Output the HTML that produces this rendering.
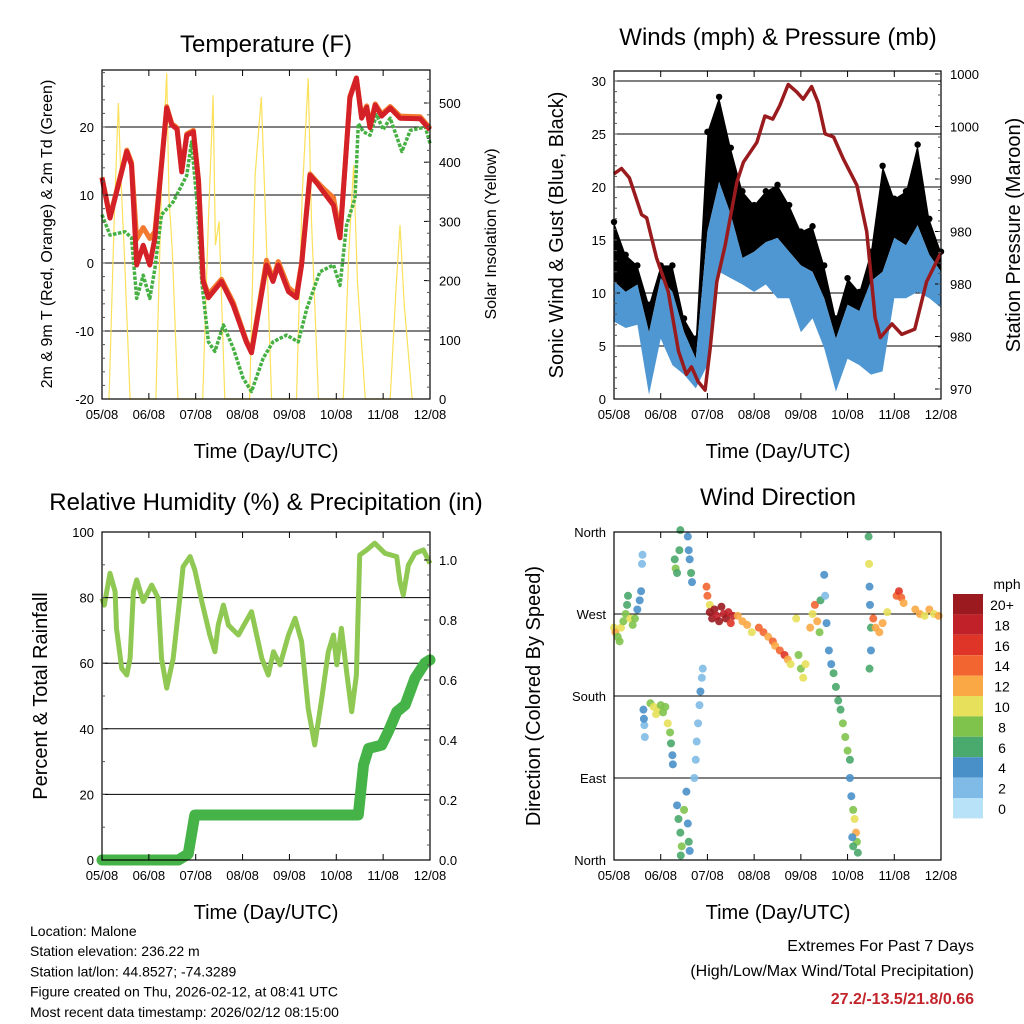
<!DOCTYPE html>
<html><head><meta charset="utf-8"><style>
html,body{margin:0;padding:0;background:#fff;}
svg{display:block;font-family:"Liberation Sans",Arial,sans-serif;}
</style></head><body>
<svg id="c" width="1024" height="1024" viewBox="0 0 1024 1024" xmlns="http://www.w3.org/2000/svg"></svg>
<script>
// ---------- DATA ----------
const dayLabels = ['05/08','06/08','07/08','08/08','09/08','10/08','11/08','12/08'];
// Temperature (F), time in days since 05/08
const tempT = [0,0.17,0.53,0.63,0.74,0.88,1.02,1.13,1.27,1.38,1.49,1.6,1.7,1.81,1.95,2.06,2.16,2.27,2.55,2.8,3.08,3.19,3.51,3.65,3.76,3.98,4.15,4.26,4.44,4.58,4.72,4.94,5.08,5.19,5.29,5.43,5.54,5.65,5.72,5.83,5.97,6.15,6.36,6.79,7];
const tempRed = [12.5,6.6,16.4,14.4,-0.3,2.6,-0.3,3.7,14.4,22.8,20.3,19.7,13.4,18.8,19.3,12,-2.7,-5.1,-2.7,-6.2,-11.6,-13.2,-0.3,-2.7,-0.3,-4.2,-5.1,-0.3,12.9,11.8,10.5,8.5,3.7,14.4,24.3,27.2,21.3,22.9,19.9,23.2,21.6,22.8,21.3,21.2,19.6];
const tempOrange = [12.6,6.8,16.6,14.8,3.5,5.2,3.6,4.6,14.6,23,20.5,19.9,13.6,19,19.5,12.2,-2.5,-4.6,-2.4,-5.8,-11.4,-13,0.4,-2.4,0.2,-3.6,-4.6,0,13.1,12,11,9.6,4.2,14.6,24.5,27.2,21.6,23.1,20.2,23.4,21.9,23,21.6,21.5,19.8];
const dewT = [0,0.17,0.49,0.63,0.74,0.88,1.02,1.13,1.27,1.52,1.81,1.91,2.02,2.13,2.27,2.41,2.59,2.8,3.01,3.19,3.44,3.65,3.94,4.19,4.37,4.65,4.94,5.08,5.22,5.4,5.47,5.58,5.72,5.86,6.0,6.15,6.4,6.58,6.9,7];
const dewGreen = [7.1,4.1,4.6,3.7,-5.2,-1.8,-5.2,-0.8,7.1,9,12.9,17.8,9.5,-2.7,-11.6,-13,-9.1,-12.5,-16.9,-18.9,-14,-11.6,-10.6,-11.6,-6.7,-1.3,-0.3,-3.3,5.6,9.5,20.5,19.3,18.8,21.8,19.6,21.3,16.4,19.5,20,17.6];
const solarT = [0.15,0.27,0.35,0.4,0.48,0.6,1.15,1.27,1.38,1.43,1.5,1.62,2.15,2.27,2.37,2.42,2.5,2.62,3.15,3.27,3.4,3.48,3.62,4.15,4.27,4.4,4.47,4.62,5.15,5.27,5.37,5.45,5.62,6.15,6.27,6.36,6.45,6.62];
const solarV = [0,330,500,380,240,0,0,360,550,340,250,0,0,300,513,260,300,0,0,380,510,330,0,0,340,542,300,0,0,250,395,200,0,0,180,294,160,0];
// Winds (mph) and pressure (mb)
const windT = [0,0.25,0.5,0.75,1,1.25,1.5,1.75,2,2.25,2.5,2.75,3,3.25,3.5,3.75,4,4.25,4.5,4.75,5,5.25,5.5,5.75,6,6.25,6.5,6.75,7];
const windHi = [11.1,10.1,10.8,6.3,11.4,10.1,6.3,3.8,15.8,20.5,17.4,13.3,13.9,14.8,15.2,13.9,12.6,12,9.5,5.7,8.9,8.3,11.1,12,15.2,14.5,16.4,13.6,12];
const windLo = [7.3,6.7,7,0.4,5.7,3.2,2.3,1,3.2,12,11.4,10.8,10.1,10.8,9.5,9.5,6.3,7.6,4.8,0.7,3.8,3.2,2.3,2.6,9.5,9.5,10.1,9.5,8.6];
const gust = [16.7,13.6,12.6,8.9,12.6,12.6,7.6,5.7,25.2,28.5,23.7,19.6,18.3,19.6,20.2,18.3,15.8,16.3,12.6,7.6,11.4,10.1,13.9,22,18.9,19.6,24,17,13.9];
const pressT = [0,0.16,0.33,0.59,0.7,0.91,1.16,1.38,1.55,1.66,1.8,1.95,2.06,2.2,2.38,2.63,2.77,3.06,3.23,3.4,3.55,3.73,3.91,4.05,4.23,4.37,4.52,4.7,4.91,5.2,5.41,5.59,5.7,5.95,6.16,6.44,6.69,7];
const pressV = [990.5,991,990.1,986.6,986.3,982.5,979.3,973.6,971.4,972.1,970.7,969.9,973.9,980.2,983.7,989.7,991.6,993.5,996,995.7,997,999,998.3,997.6,998.8,997.3,994.3,994,991.9,989.4,985,976.8,974.9,976.2,975.2,975.7,980.2,983];
const pressTicks = [970,975,980,985,990,995,1000];
const pressTickLabels = ['970','980','980','980','990','1000','1000'];
// RH (%) and precipitation (in)
const rhT = [0,0.05,0.17,0.28,0.31,0.42,0.53,0.6,0.67,0.74,0.88,1.06,1.2,1.27,1.38,1.52,1.66,1.73,1.88,1.98,2.13,2.3,2.41,2.48,2.59,2.7,2.91,3.19,3.41,3.55,3.66,3.8,3.98,4.12,4.26,4.4,4.54,4.69,4.83,4.94,5.01,5.11,5.22,5.33,5.43,5.5,5.65,5.82,6.04,6.29,6.36,6.43,6.54,6.68,6.86,7];
const rhV = [79.8,77.7,87.4,81.8,70.6,58.4,56.4,61.5,81.8,85.4,78.8,83.8,79.8,61.5,52.4,61.5,79.8,89.4,92.5,88.4,78.8,68.6,63.5,71.6,77.7,71.6,68.6,75.7,61.5,56.4,63.5,59.5,68.6,73.7,66.6,46.2,35.1,49.3,63.5,68.6,59.5,70.6,57.4,45.2,56.4,93,94.5,96.6,93.5,92.5,84.8,80.8,89.9,93.5,94.5,90.4];
const precipT = [0,1.63,1.84,1.98,2.05,5.47,5.58,5.69,5.97,6.11,6.29,6.47,6.68,6.89,7];
const precipV = [0,0,0.02,0.15,0.15,0.15,0.317,0.372,0.383,0.428,0.494,0.517,0.606,0.656,0.667];
// Wind direction (deg) and speed (mph)
const dirT = [0,0.03,0.08,0.12,0.15,0.2,0.25,0.28,0.3,0.35,0.4,0.45,0.5,0.55,0.58,0.6,0.61,0.63,0.65,0.66,0.64,0.78,0.85,0.9,0.95,1,1.05,1.1,1.15,1.2,1.22,1.25,1.26,1.3,1.32,1.35,1.4,1.42,1.58,1.6,1.62,1.65,1.67,1.35,1.38,1.42,1.45,1.43,1.5,1.55,1.58,1.6,1.62,1.72,1.75,1.77,1.8,1.83,1.85,1.88,1.9,1.98,2,2.05,2.05,2.1,2.15,2.2,2.25,2.3,2.35,2.4,2.45,2.5,2.55,2.65,2.75,2.85,2.95,3.1,3.2,3.3,3.4,3.45,3.55,3.65,3.72,3.78,3.9,3.95,4,4.05,4.1,4.2,4.25,4.3,4.35,4.4,4.42,4.5,4.52,4.55,4.6,4.65,4.7,4.75,4.8,4.85,4.9,4.95,5,5.05,5.05,5.08,5.12,5.15,5.18,5.2,5.22,5.1,5.12,5.45,5.46,5.47,5.48,5.5,5.5,5.47,5.55,5.6,5.68,5.75,5.85,6.05,6.1,6.15,6.2,6.45,6.55,6.65,6.75,6.85,6.95];
const dirV = [255,250,245,240,255,262,270,280,290,265,258,265,275,285,295,325,335,165,148,135,155,172,168,160,165,170,162,168,150,140,128,115,105,330,320,315,340,362,355,340,330,315,305,60,45,30,15,5,55,75,40,20,10,90,110,130,150,170,185,200,210,300,290,280,272,265,275,268,262,278,270,265,272,260,268,268,262,258,250,255,250,245,240,235,230,225,220,215,265,225,210,200,215,255,270,280,262,250,285,313,290,260,230,215,205,190,175,165,150,135,120,110,90,70,55,45,30,20,8,25,15,355,325,300,280,255,230,210,265,255,250,260,272,290,295,288,282,275,270,268,275,270,268];
const dirS = [10,12,8,8,10,8,8,6,6,10,8,8,4,4,4,2,2,4,2,2,4,8,10,10,10,8,8,8,10,8,6,4,4,6,8,6,6,6,4,4,4,6,4,4,6,6,8,6,8,4,4,6,4,2,2,2,2,2,4,2,2,14,14,10,20,20,20,18,20,20,18,20,18,16,18,12,12,12,10,14,14,12,14,12,14,16,12,10,10,8,8,10,10,12,10,14,12,8,6,4,2,4,4,4,6,6,6,6,8,8,8,6,4,4,8,10,12,8,6,4,6,6,10,4,4,6,4,6,14,12,12,12,10,14,16,14,12,12,12,10,12,10,12];
const cbLabels = ['20+','18','16','14','12','10','8','6','4','2','0'];
const cbColors = ['#9b1a1f','#c1222a','#de3528','#f26530','#f9a845','#e7e05a','#7fc34c','#4aa96c','#4a90c8','#7fbbe6','#b8e2f8'];

// ---------- DRAWING ----------
const NS='http://www.w3.org/2000/svg';
const svg=document.getElementById('c');
function mk(tag,attrs,parent){const e=document.createElementNS(NS,tag);for(const k in attrs)e.setAttribute(k,attrs[k]);(parent||svg).appendChild(e);return e;}
function txt(s,x,y,size,anchor,parent,extra){const e=mk('text',Object.assign({x:x,y:y,'font-size':size,'text-anchor':anchor||'middle',fill:'#000'},extra||{}),parent);e.textContent=s;return e;}

const P1={x0:102,x1:430,y0:70,y1:399}, P2={x0:614,x1:941,y0:71,y1:399}, P3={x0:102,x1:430,y0:532,y1:860}, P4={x0:614,x1:941,y0:532,y1:860};
function xs(p,t){return p.x0+t/7*(p.x1-p.x0);}
const yT=v=>263-v*6.8, yS=v=>399-v*0.592, yW=v=>399-v*10.6, yP=v=>389-(v-970)*10.5, yR=v=>860-v*3.28, yPr=v=>860-v*300, yD=d=>860-d*328/360;
function pts(p,T,V,fy){return T.map((t,i)=>xs(p,t).toFixed(1)+','+fy(V[i]).toFixed(1)).join(' ');}

function frame(p,name,g){
  // x ticks
  for(let d=0;d<=7;d++){const x=xs(p,d);
    const tb=mk('line',{x1:x,y1:p.y1,x2:x,y2:p.y1-6,stroke:'#000','stroke-width':1},g);
    
    mk('line',{x1:x,y1:p.y0,x2:x,y2:p.y0+6,stroke:'#000','stroke-width':1},g);
    const l=txt(dayLabels[d],x,p.y1+20,13,'middle',g);
    
  }
  const r=mk('rect',{x:p.x0,y:p.y0,width:p.x1-p.x0,height:p.y1-p.y0,fill:'none',stroke:'#000','stroke-width':1.2},g);
  
}
function grid(p,ys,g){ys.forEach(y=>{const l=mk('line',{x1:p.x0,y1:y,x2:p.x1,y2:y,stroke:'#000','stroke-width':1},g);});}
function yTicks(p,ys,labels,side,g,minor){
  ys.forEach((y,i)=>{
    const x=side==='l'?p.x0:p.x1, dir=side==='l'?1:-1;
    mk('line',{x1:x,y1:y,x2:x+dir*6,y2:y,stroke:'#000','stroke-width':1},g);
    const l=txt(labels[i],side==='l'?p.x0-8:p.x1+9,y+5,13,side==='l'?'end':'start',g);
    
  });
  (minor||[]).forEach(y=>{const x=side==='l'?p.x0:p.x1, dir=side==='l'?1:-1; if(y>p.y0&&y<p.y1) mk('line',{x1:x,y1:y,x2:x+dir*3,y2:y,stroke:'#555','stroke-width':1},g);});
}
function minorRange(f,a,b,s){const o=[];for(let v=a;v<=b+1e-9;v+=s)o.push(f(v));return o;}

// ===== Panel 1: Temperature =====
const g1=mk('g',{});  
grid(P1,[-20,-10,0,10,20].map(yT),g1);
const sol=mk('polyline',{points:pts(P1,solarT,solarV,yS),fill:'none',stroke:'#fbe15a','stroke-width':1.2},g1);

const dw=mk('polyline',{points:pts(P1,dewT,dewGreen,yT),fill:'none',stroke:'#46b043','stroke-width':3.5,'stroke-dasharray':'3.5 1.5','stroke-linejoin':'round'},g1);

const or=mk('polyline',{points:pts(P1,tempT,tempOrange,yT),fill:'none',stroke:'#f3792e','stroke-width':5,'stroke-linejoin':'round'},g1);

const rd=mk('polyline',{points:pts(P1,tempT,tempRed,yT),fill:'none',stroke:'#d42027','stroke-width':5,'stroke-linejoin':'round'},g1);

frame(P1,'temperature',g1);
yTicks(P1,[-20,-10,0,10,20].map(yT),['-20','-10','0','10','20'],'l',g1,minorRange(yT,-20,28,2));
yTicks(P1,[0,100,200,300,400,500].map(yS),['0','100','200','300','400','500'],'r',g1,minorRange(yS,0,540,20));
let t=txt('Temperature (F)',266,52,24,'middle',g1);
t=txt('Time (Day/UTC)',266,458,20,'middle',g1);
t=txt('2m & 9m T (Red, Orange) & 2m Td (Green)',0,0,16,'middle',g1,{transform:'translate(52,234) rotate(-90)'});
t=txt('Solar Insolation (Yellow)',0,0,16,'middle',g1,{transform:'translate(496,234) rotate(-90)'});

// ===== Panel 2: Winds & Pressure =====
const g2=mk('g',{});  
grid(P2,[5,10,15,20,25,30].map(yW),g2);
const gb=mk('polygon',{points:pts(P2,windT,gust,yW)+' '+pts(P2,windT.slice().reverse(),windHi.slice().reverse(),yW),fill:'#000'},g2);

windT.forEach((tt,i)=>{const c=mk('circle',{cx:xs(P2,tt),cy:yW(gust[i]),r:3.2,fill:'#000'},g2);});
const bb=mk('polygon',{points:pts(P2,windT,windHi,yW)+' '+pts(P2,windT.slice().reverse(),windLo.slice().reverse(),yW),fill:'#4f97d2'},g2);

const pl=mk('polyline',{points:pts(P2,pressT,pressV,yP),fill:'none',stroke:'#9a1b1e','stroke-width':3.5,'stroke-linejoin':'round'},g2);

frame(P2,'winds',g2);
yTicks(P2,[0,5,10,15,20,25,30].map(yW),['0','5','10','15','20','25','30'],'l',g2,minorRange(yW,0,30,1));
yTicks(P2,pressTicks.map(yP),pressTickLabels,'r',g2,minorRange(yP,970,1001,1));
t=txt('Winds (mph) & Pressure (mb)',778,45,24,'middle',g2);
t=txt('Time (Day/UTC)',778,458,20,'middle',g2);
t=txt('Sonic Wind & Gust (Blue, Black)',0,0,20,'middle',g2,{transform:'translate(563,235) rotate(-90)'});
t=txt('Station Pressure (Maroon)',0,0,20,'middle',g2,{transform:'translate(1020,235) rotate(-90)'});

// ===== Panel 3: RH & Precip =====
const g3=mk('g',{});  
grid(P3,[20,40,60,80].map(yR),g3);
const rl=mk('polyline',{points:pts(P3,rhT,rhV,yR),fill:'none',stroke:'#8fc852','stroke-width':5,'stroke-linejoin':'round'},g3);

const prl=mk('polyline',{points:pts(P3,precipT,precipV,yPr),fill:'none',stroke:'#46b348','stroke-width':11,'stroke-linejoin':'round','stroke-linecap':'round'},g3);

frame(P3,'humidity',g3);
yTicks(P3,[0,20,40,60,80,100].map(yR),['0','20','40','60','80','100'],'l',g3,minorRange(yR,0,100,10));
yTicks(P3,[0,0.2,0.4,0.6,0.8,1.0].map(yPr),['0.0','0.2','0.4','0.6','0.8','1.0'],'r',g3,minorRange(yPr,0,1.09,0.05));
t=txt('Relative Humidity (%) & Precipitation (in)',266,510,24,'middle',g3);
t=txt('Time (Day/UTC)',266,919,20,'middle',g3);
t=txt('Percent & Total Rainfall',0,0,20,'middle',g3,{transform:'translate(47,696) rotate(-90)'});

// ===== Panel 4: Wind direction =====
const g4=mk('g',{});  
grid(P4,[90,180,270].map(yD),g4);
function spdColor(s){let i=Math.round(s/2); if(i>10)i=10; return cbColors[10-i];}
dirT.forEach((tt,i)=>{
  const c=mk('circle',{cx:xs(P4,tt),cy:yD(dirV[i]),r:4,fill:spdColor(dirS[i]),'fill-opacity':0.9},g4);
  
  
});
frame(P4,'wind-direction',g4);
yTicks(P4,[0,90,180,270,360].map(yD),['North','East','South','West','North'],'l',g4,[]);
t=txt('Wind Direction',778,505,24,'middle',g4);
t=txt('Time (Day/UTC)',778,919,20,'middle',g4);
t=txt('Direction (Colored By Speed)',0,0,20,'middle',g4,{transform:'translate(540,696) rotate(-90)'});
// colorbar
const gc=mk('g',{});  
t=txt('mph',1007,589,14,'middle',gc);
cbColors.forEach((col,i)=>{
  const r=mk('rect',{x:953,y:594+i*20.4,width:30,height:20.4,fill:col},gc);
  
  const l=txt(cbLabels[i],1002,594+i*20.4+16,14,'middle',gc);
  
});

// ===== Footer text =====
const info=['Location: Malone','Station elevation: 236.22 m','Station lat/lon: 44.8527; -74.3289','Figure created on Thu, 2026-02-12, at 08:41 UTC','Most recent data timestamp: 2026/02/12 08:15:00'];
info.forEach((s,i)=>{const e=txt(s,30,936+i*20.2,14,'start');});
t=txt('Extremes For Past 7 Days',974,951,16,'end');
t=txt('(High/Low/Max Wind/Total Precipitation)',974,976,16,'end');
t=txt('27.2/-13.5/21.8/0.66',974,1004,16,'end',null,{fill:'#c3242b','font-weight':'bold'});
</script>
</body></html>
